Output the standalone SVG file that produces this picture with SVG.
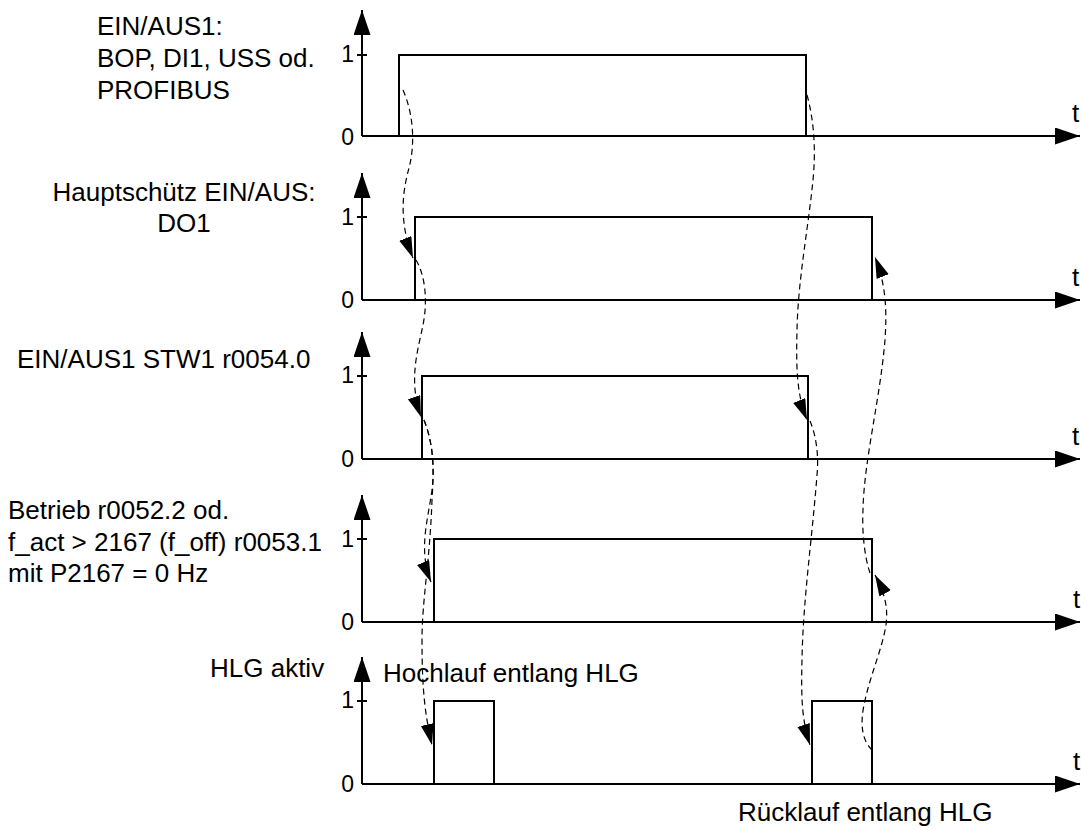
<svg xmlns="http://www.w3.org/2000/svg" width="1081" height="830" viewBox="0 0 1081 830">
<style>
.ax{fill:none;stroke:#000;stroke-width:2}
.sig{fill:none;stroke:#000;stroke-width:2}
.dash{fill:none;stroke:#000;stroke-width:1.2;stroke-dasharray:6 4}
.lbl{font-family:"Liberation Sans",Arial,sans-serif;font-size:26px;fill:#000}
.num{font-family:"Liberation Sans",Arial,sans-serif;font-size:23px;fill:#000}
</style>
<defs>
<marker id="ah" markerUnits="userSpaceOnUse" markerWidth="26" markerHeight="18" refX="25" refY="8.5" orient="auto">
<path d="M0,0 L25,8.5 L0,17 z" fill="#000"/>
</marker>
<marker id="dh" markerUnits="userSpaceOnUse" markerWidth="22" markerHeight="14" refX="21" refY="6.5" orient="auto">
<path d="M0,0 L21,6.5 L0,13 z" fill="#000"/>
</marker>
</defs>
<rect width="1081" height="830" fill="#fff"/>

<g id="panel1">
<path class="ax" d="M362 136 V10" marker-end="url(#ah)"/>
<path class="ax" d="M362 136 H1080" marker-end="url(#ah)"/>
<path class="ax" d="M357 55 H367"/>
<path class="sig" d="M399 136 V55 H806 V136"/>
<text class="num" x="354" y="62" text-anchor="end">1</text>
<text class="num" x="354" y="145" text-anchor="end">0</text>
<text class="lbl" x="1072" y="122">t</text>
<text class="lbl" x="97" y="35">EIN/AUS1:</text>
<text class="lbl" x="97" y="67">BOP, DI1, USS od.</text>
<text class="lbl" x="97" y="99">PROFIBUS</text>
</g>

<g id="panel2">
<path class="ax" d="M362 300 V173" marker-end="url(#ah)"/>
<path class="ax" d="M362 300 H1080" marker-end="url(#ah)"/>
<path class="ax" d="M357 217 H367"/>
<path class="sig" d="M415 300 V217 H872 V300"/>
<text class="num" x="354" y="225" text-anchor="end">1</text>
<text class="num" x="354" y="308" text-anchor="end">0</text>
<text class="lbl" x="1072" y="286">t</text>
<text class="lbl" x="184" y="201" text-anchor="middle">Hauptschütz EIN/AUS:</text>
<text class="lbl" x="184" y="232" text-anchor="middle">DO1</text>
</g>

<g id="panel3">
<path class="ax" d="M362 459 V332" marker-end="url(#ah)"/>
<path class="ax" d="M362 459 H1080" marker-end="url(#ah)"/>
<path class="ax" d="M357 376 H367"/>
<path class="sig" d="M422 459 V376 H808 V459"/>
<text class="num" x="354" y="383" text-anchor="end">1</text>
<text class="num" x="354" y="467" text-anchor="end">0</text>
<text class="lbl" x="1072" y="445">t</text>
<text class="lbl" x="17" y="368">EIN/AUS1 STW1 r0054.0</text>
</g>

<g id="panel4">
<path class="ax" d="M362 622 V495" marker-end="url(#ah)"/>
<path class="ax" d="M362 622 H1080" marker-end="url(#ah)"/>
<path class="ax" d="M357 539 H367"/>
<path class="sig" d="M434 622 V539 H872 V622"/>
<text class="num" x="354" y="547" text-anchor="end">1</text>
<text class="num" x="354" y="630" text-anchor="end">0</text>
<text class="lbl" x="1073" y="608">t</text>
<text class="lbl" x="8" y="519">Betrieb r0052.2 od.</text>
<text class="lbl" x="8" y="551">f_act &gt; 2167 (f_off) r0053.1</text>
<text class="lbl" x="8" y="582">mit P2167 = 0 Hz</text>
</g>

<g id="panel5">
<path class="ax" d="M362 784 V657" marker-end="url(#ah)"/>
<path class="ax" d="M362 784 H1080" marker-end="url(#ah)"/>
<path class="ax" d="M357 701 H367"/>
<path class="sig" d="M434 784 V701 H494 V784"/>
<path class="sig" d="M812 784 V701 H872 V784"/>
<text class="num" x="354" y="708" text-anchor="end">1</text>
<text class="num" x="354" y="792" text-anchor="end">0</text>
<text class="lbl" x="1073" y="770">t</text>
<text class="lbl" x="210" y="677">HLG aktiv</text>
<text class="lbl" x="383" y="682">Hochlauf entlang HLG</text>
<text class="lbl" x="738" y="821">Rücklauf entlang HLG</text>
</g>

<g id="connectors">
<path class="dash" d="M403 90 C414 115 415 145 409 168 C403 190 398 220 413 258" marker-end="url(#dh)"/>
<path class="dash" d="M416 260 C425 275 428 300 423 325 C418 350 408 380 421 417" marker-end="url(#dh)"/>
<path class="dash" d="M424 420 C432 440 435 465 432 490 C428 520 418 550 431 582" marker-end="url(#dh)"/>
<path class="dash" d="M424 420 C434 445 434 470 432 500 C430 560 422 600 422 640 C422 690 425 715 432 745" marker-end="url(#dh)"/>
<path class="dash" d="M807 95 C814 120 816 150 813 180 C808 230 798 280 797 330 C796 370 797 395 807 420" marker-end="url(#dh)"/>
<path class="dash" d="M810 421 C816 435 819 455 817 475 C812 540 803 600 802 660 C801 700 802 720 810 745" marker-end="url(#dh)"/>
<path class="dash" d="M872 750 C862 740 860 725 864 705 C870 675 882 650 886 625 C888 610 886 595 875 575" marker-end="url(#dh)"/>
<path class="dash" d="M870 573 C864 555 862 530 863 510 C864 460 880 400 885 340 C887 310 886 285 875 257" marker-end="url(#dh)"/>
</g>
</svg>
